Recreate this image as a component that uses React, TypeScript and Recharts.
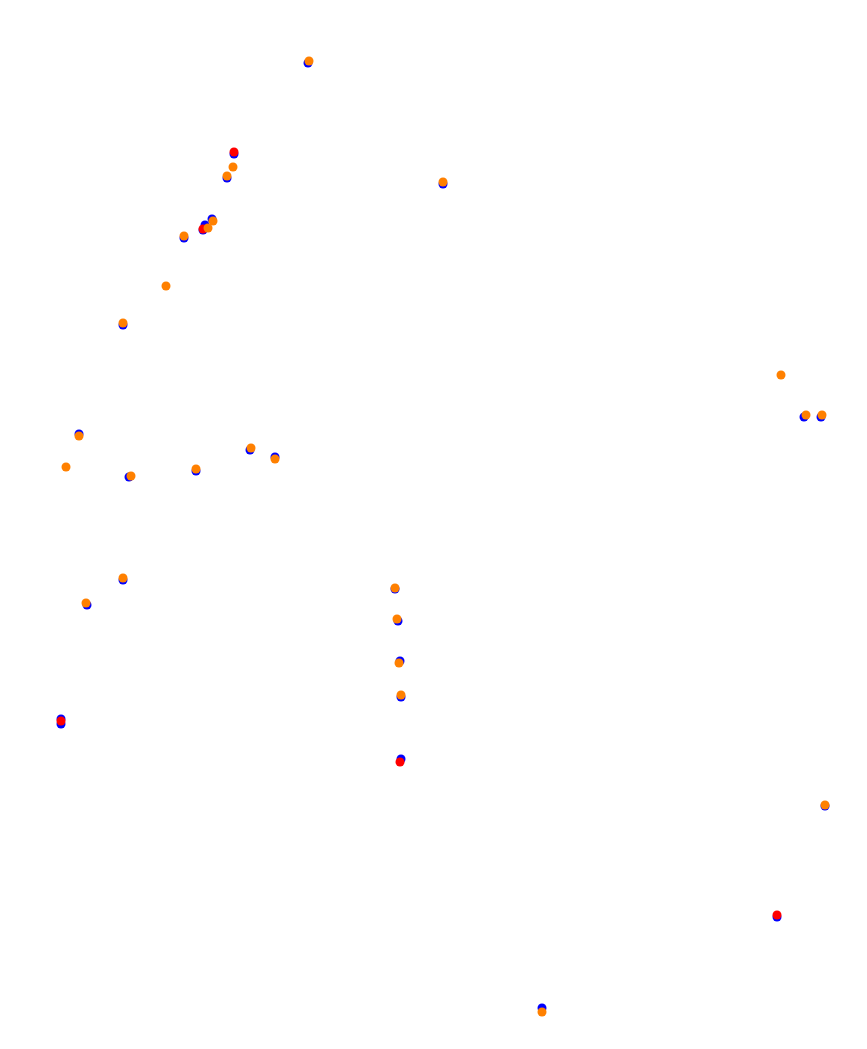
import { ScatterChart, Scatter, XAxis, YAxis, ZAxis } from "recharts";

// track positions, x to the right, y downward
const blueX = [308, 234, 227, 212, 205, 203, 184, 443, 123, 79, 129, 196, 250, 275, 123, 87, 61, 61, 395, 398, 400, 401, 401, 825, 777, 542, 804, 821];
const blueY = [63, 154, 178, 219, 225, 230, 238, 184, 325, 434, 477, 471, 450, 457, 580, 605, 719, 724, 589, 621, 661, 697, 759, 806, 917, 1008, 417, 417];

const redX = [234, 203, 61, 400, 777];
const redY = [152, 229, 721, 762, 915];

const orangeX = [309, 233, 227, 213, 208, 184, 443, 166, 123, 79, 66, 131, 196, 251, 275, 123, 86, 395, 397, 399, 401, 825, 542, 781, 806, 822];
const orangeY = [61, 167, 176, 221, 228, 236, 182, 286, 323, 436, 467, 476, 469, 448, 459, 578, 603, 588, 619, 663, 695, 805, 1012, 375, 415, 415];

const toPoints = (xs: number[], ys: number[]) => xs.map((x, i) => ({ x, y: ys[i] }));

const blue = toPoints(blueX, blueY);
const red = toPoints(redX, redY);
const orange = toPoints(orangeX, orangeY);

export default function App() {
  return (
    <div style={{ position: "absolute", top: 0, left: 0 }}>
      <ScatterChart width={867} height={1049} margin={{ top: 0, right: 0, bottom: 0, left: 0 }}>
        <XAxis type="number" dataKey="x" domain={[0, 867]} hide />
        <YAxis type="number" dataKey="y" domain={[0, 1049]} reversed hide />
        <ZAxis range={[72, 72]} />
        <Scatter data={blue} fill="#0000ff" isAnimationActive={false} />
        <Scatter data={red} fill="#ff0000" isAnimationActive={false} />
        <Scatter data={orange} fill="#ff8000" isAnimationActive={false} />
      </ScatterChart>
    </div>
  );
}
